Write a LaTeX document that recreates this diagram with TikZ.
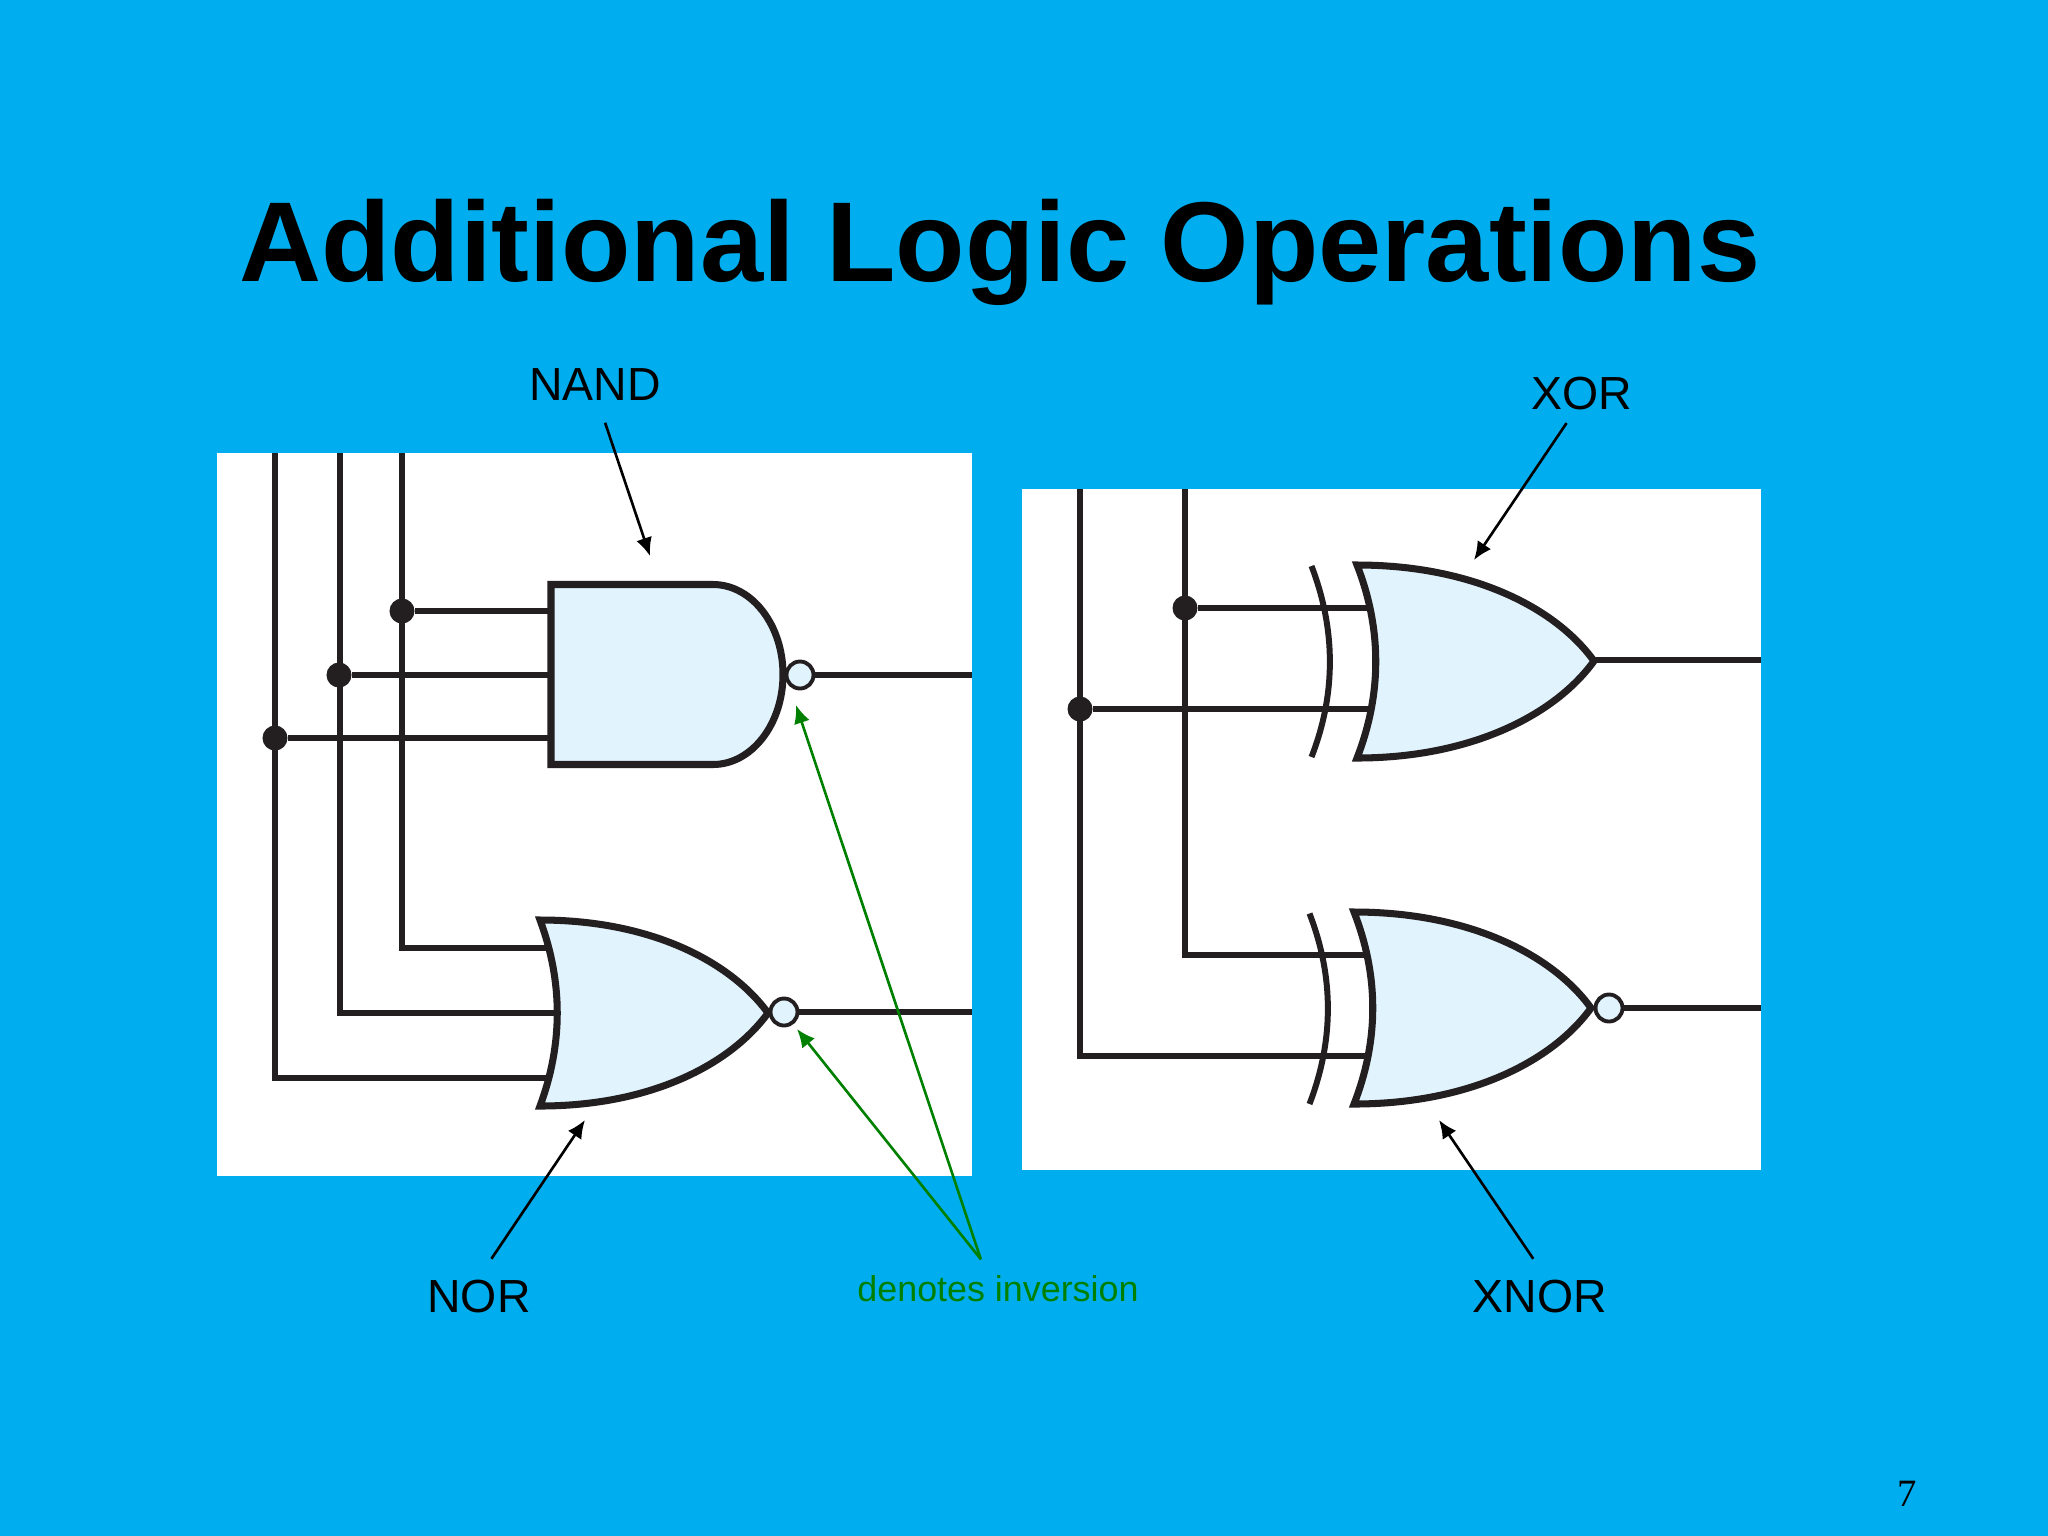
\documentclass[tikz,border=0pt]{standalone}
\usepackage{fontspec}
\setmainfont{Liberation Sans}
\newfontfamily\pagefont{Liberation Serif}
\usetikzlibrary{arrows.meta}

\definecolor{slideblue}{HTML}{00AEEF}
\definecolor{gateblue}{HTML}{E1F3FD}
\definecolor{wireblack}{HTML}{231F20}
\definecolor{invgreen}{HTML}{008000}

\tikzset{
  wire/.style={draw=wireblack,line width=1.55pt},
  thickwire/.style={draw=wireblack,line width=1.9pt},
  gate/.style={draw=wireblack,fill=gateblue,line width=2pt,line join=miter},
  backarc/.style={draw=wireblack,line width=1.7pt},
  pointer/.style={draw=black,line width=0.75pt,-{Latex[length=5.2pt,width=4.6pt]}},
  gatelabel/.style={font=\fontsize{13.2}{13.2}\selectfont,text=black,inner ysep=6pt},
}

\begin{document}
\begin{tikzpicture}[x=0.01cm,y=-0.01cm]

      \fill[slideblue] (0,0) rectangle (2048,1536);
      \useasboundingbox (0,0) rectangle (2048,1536);

      \fill[white] (217,453) rectangle (972,1176);
      \fill[white] (1022,489) rectangle (1761,1170);

      \node (title) at (1000,252) {\fontsize{32.3}{32.3}\selectfont\bfseries Additional Logic Operations};
      \node (pagenum) at (1907,1494) {\pagefont\fontsize{11}{11}\selectfont 7};

      % free ends of the wires
      \coordinate (topa) at (275,453);
      \coordinate (topb) at (340,453);
      \coordinate (topc) at (402,453);
      \coordinate (nandout) at (972,675);
      \coordinate (norout) at (972,1012);
      \coordinate (topd) at (1080,489);
      \coordinate (tope) at (1185,489);
      \coordinate (xorout) at (1761,660);
      \coordinate (xnorout) at (1761,1008);

      \coordinate (nanda) at (551,611);
      \coordinate (nandb) at (551,675);
      \coordinate (nandc) at (551,738);
      \coordinate (nora) at (547,948);
      \coordinate (norb) at (555,1013);
      \coordinate (norc) at (547,1078);
      \coordinate (xora) at (1368,608);
      \coordinate (xorb) at (1368,709);
      \coordinate (xnora) at (1366,955);
      \coordinate (xnorb) at (1366,1056);
      \coordinate (xortip) at (1594,660);

      \begin{scope}[every node/.style={circle,fill=wireblack,inner sep=0pt,minimum size=0.25cm}]
        \node (dotc) at (402,611) {};
        \node (dotb) at (339,675) {};
        \node (dota) at (275,738) {};
        \node (dote) at (1185,608) {};
        \node (dotd) at (1080,709) {};
      \end{scope}

      \draw[wire] (topc) |- (nora);
      \draw[wire] (topb) |- (norb);
      \draw[wire] (topa) |- (norc);
      \draw[wire] (tope) |- (xnora);
      \draw[wire] (topd) |- (xnorb);

      \draw[wire] (dotc) -- (nanda);
      \draw[thickwire] (dotb) -- (nandb);
      \draw[wire] (dota) -- (nandc);
      \draw[wire] (dote) -- (xora);
      \draw[wire] (dotd) -- (xorb);

      % gates
      \draw[gate] (551,584.5) -- (713,584.5) arc[start angle=-90,end angle=90,x radius=70,y radius=90] -- (551,764.5) -- cycle;
      \draw[gate] (540,920) .. controls (650,920) and (730,961) .. (768,1013)
                  .. controls (730,1065) and (650,1106) .. (540,1106)
                  .. controls (563,1044) and (563,982) .. (540,920) -- cycle;
      \draw[gate] (1357,565) .. controls (1471,565) and (1555,607) .. (1594,661)
                  .. controls (1555,715) and (1471,758) .. (1357,758)
                  .. controls (1382,694) and (1382,629) .. (1357,565) -- cycle;
      \draw[gate] (1354,912) .. controls (1468,912) and (1552,954) .. (1591,1008)
                  .. controls (1552,1062) and (1468,1104) .. (1354,1104)
                  .. controls (1379,1040) and (1379,976) .. (1354,912) -- cycle;
      \draw[backarc] (1311.5,566) .. controls (1336,630) and (1336,694) .. (1311.5,757);
      \draw[backarc] (1309.5,913.5) .. controls (1334,977) and (1334,1040) .. (1309.5,1104);

      \begin{scope}[every node/.style={circle,draw=wireblack,fill=gateblue,line width=1.1pt,inner sep=0pt,minimum size=0.27cm}]
        \node (nandinv) at (800,675) {};
        \node (norinv) at (784,1012) {};
        \node (xnorinv) at (1609,1008) {};
      \end{scope}

      \draw[wire] (nandinv) -- (nandout);
      \draw[wire] (norinv) -- (norout);
      \draw[wire] (xortip) -- (xorout);
      \draw[wire] (xnorinv) -- (xnorout);

      % labels and pointers
      \node[gatelabel] (nandlabel) at (595,385) {NAND};
      \node[gatelabel,inner ysep=3.4pt] (xorlabel) at (1582,394) {XOR};
      \node[gatelabel] (norlabel) at (479,1297) {NOR};
      \node[gatelabel] (xnorlabel) at (1540,1297) {XNOR};
      \node[text=invgreen,font=\fontsize{10.2}{10.2}\selectfont,inner ysep=4.5pt] (invlabel) at (998,1289) {denotes inversion};

      \coordinate (nandpt) at (650,556);
      \coordinate (xorpt) at (1474,560);
      \coordinate (norpt) at (585,1120);
      \coordinate (xnorpt) at (1439,1120);
      \coordinate (nandinvpt) at (796,705);
      \coordinate (norinvpt) at (797,1029);

      \draw[pointer] (nandlabel.-75) -- (nandpt);
      \draw[pointer] (xorlabel.-118) -- (xorpt);
      \draw[pointer] (norlabel.72) -- (norpt);
      \draw[pointer] (xnorlabel.100) -- (xnorpt);
      \draw[pointer,draw=invgreen,fill=invgreen] (invlabel.120) -- (nandinvpt);
      \draw[pointer,draw=invgreen,fill=invgreen] (invlabel.120) -- (norinvpt);

    \end{tikzpicture}
\end{document}
